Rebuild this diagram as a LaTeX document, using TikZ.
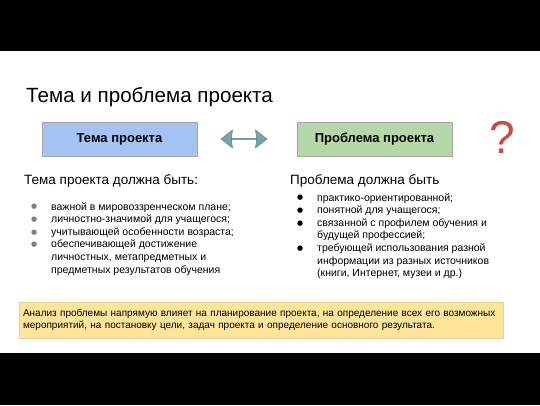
\documentclass[tikz,border=0pt]{standalone}
\usepackage{fontspec}
\setmainfont{Liberation Sans}
\newfontfamily\dejavu{DejaVu Sans}
\usetikzlibrary{shapes.arrows}

\definecolor{temablue}{HTML}{A4C2F4}
\definecolor{problgreen}{HTML}{B6D7A8}
\definecolor{arrowteal}{HTML}{76A5AF}
\definecolor{notebg}{HTML}{FFE599}
\definecolor{qred}{HTML}{C0503C}

\newcommand{\bul}{\raisebox{1.2pt}{\dejavu\fontsize{7}{7}\selectfont ●}}

\tikzset{
    topicbox/.style={draw=gray!70, line width=0.6pt, minimum width=155pt, minimum height=34pt,
        inner sep=0pt, font=\bfseries\fontsize{13}{15}\selectfont},
    headtext/.style={anchor=base west, inner sep=0pt, font=\fontsize{13.5}{16}\selectfont},
    listtext/.style={anchor=base west, inner sep=0pt, font=\fontsize{10.5}{12.6}\selectfont}
}

\begin{document}
\begin{tikzpicture}[x=1pt, y=-1pt]
        \useasboundingbox (0,0) rectangle (540,405);
        \fill[black] (0,0) rectangle (540,51); % faixa superior
        \fill[black] (0,353) rectangle (540,405); % faixa inferior

        \node (titulo) at (26,102) [anchor=base west, inner sep=0pt, font=\fontsize{20.6}{24}\selectfont]{Тема и проблема проекта};

        \begin{scope}[shift={(0,0)}]
            \node (tema) at (119.5,139) [topicbox, fill=temablue]{Тема проекта};
            \node (problema) at (374.5,139) [topicbox, fill=problgreen]{Проблема проекта};
            \node (seta) at (244,139) [double arrow, draw=arrowteal!70!black, fill=arrowteal, line width=0.4pt,
                minimum height=46pt, minimum width=18pt, inner sep=0pt,
                double arrow head extend=4.5pt, double arrow tip angle=76, double arrow head indent=1.2pt]{};
            \node (pergunta) at (502,153) [anchor=base, inner sep=0pt, text=qred, font=\fontsize{46}{50}\selectfont]{?};
        \end{scope}

        \node (temadeve) at (24,184) [headtext]{Тема проекта должна быть:};
        \node (probdeve) at (290,184) [headtext]{Проблема должна быть};

        \node (temalista) at (31,210) [listtext]{\begin{tabular}[t]{@{}p{20pt}@{}l@{}}
            \textcolor{gray}{\bul} & важной в мировоззренческом плане;\\
            \textcolor{gray}{\bul} & личностно-значимой для учащегося;\\
            \textcolor{gray}{\bul} & учитывающей особенности возраста;\\
            \textcolor{gray}{\bul} & обеспечивающей достижение\\
             & личностных, метапредметных и\\
             & предметных результатов обучения
        \end{tabular}};

        \node (problista) at (297,201) [listtext]{\begin{tabular}[t]{@{}p{20pt}@{}l@{}}
            \bul & практико-ориентированной;\\
            \bul & понятной для учащегося;\\
            \bul & связанной с профилем обучения и\\
             & будущей профессией;\\
            \bul & требующей использования разной\\
             & информации из разных источников\\
             & (книги, Интернет, музеи и др.)
        \end{tabular}};

        \node (analise) at (261,320) [fill=notebg, draw=notebg!80!gray, line width=0.3pt, minimum width=484pt, minimum height=36pt,
            text width=476pt, inner xsep=4pt, inner ysep=0pt, align=left, font=\fontsize{10}{12.4}\selectfont]
            {Анализ проблемы напрямую влияет на планирование проекта, на определение всех его возможных\\
            мероприятий, на постановку цели, задач проекта и определение основного результата.};
\end{tikzpicture}
\end{document}
